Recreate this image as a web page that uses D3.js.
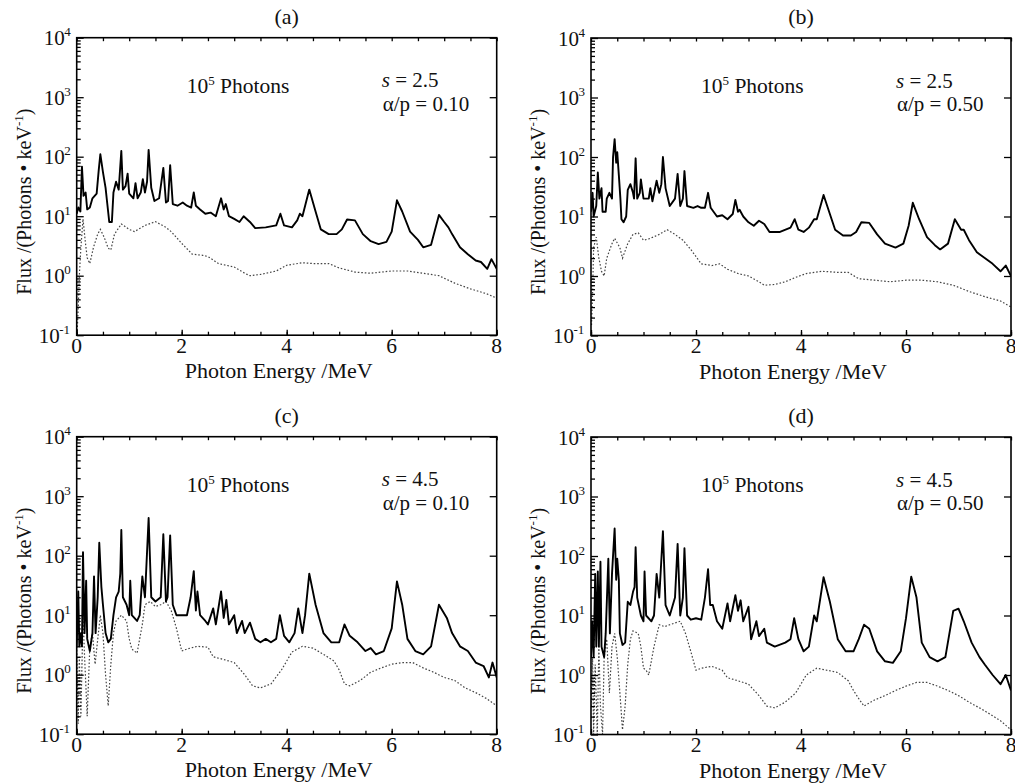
<!DOCTYPE html>
<html>
<head>
<meta charset="utf-8">
<script src="https://cdn.jsdelivr.net/npm/d3@7"></script>
<style>
  body { margin: 0; background: #fff; }
  text { font-family: "Liberation Serif", "DejaVu Serif", serif; fill: #111; }
</style>
</head>
<body>
<div id="container"></div>
<script>
/* DATA, [energy MeV, flux] */
const solidA = [[0,11],[0.03,14],[0.07,12],[0.1,68],[0.13,22],[0.17,25],[0.2,13],[0.25,14],[0.3,20],[0.38,24],[0.42,60],[0.45,110],[0.5,55],[0.55,30],[0.58,17],[0.62,8],[0.67,8],[0.7,25],[0.75,38],[0.8,28],[0.85,125],[0.88,28],[0.93,32],[0.97,52],[1.0,24],[1.08,20],[1.12,36],[1.16,20],[1.22,25],[1.26,42],[1.3,25],[1.34,38],[1.37,130],[1.42,30],[1.48,18],[1.57,20],[1.65,65],[1.7,17],[1.74,18],[1.78,72],[1.83,16],[1.92,15],[2.02,17],[2.1,15],[2.18,14],[2.23,25],[2.27,15],[2.35,13],[2.45,11],[2.55,11.5],[2.65,10],[2.75,20],[2.8,13],[2.84,16],[2.9,10],[3.0,9],[3.1,8],[3.18,10],[3.3,8],[3.4,6.3],[3.6,6.5],[3.8,7],[3.88,11],[3.95,7],[4.1,6.5],[4.2,8.5],[4.25,11],[4.3,10],[4.43,28],[4.55,12],[4.65,6],[4.8,5],[4.95,5],[5.05,6],[5.15,8.8],[5.3,8.5],[5.45,5],[5.6,3.8],[5.75,3.4],[5.9,3.7],[6.0,5.5],[6.1,18.5],[6.2,12],[6.35,5.5],[6.5,4],[6.6,3],[6.75,3.3],[6.9,10.5],[7.0,8],[7.08,6.5],[7.15,5],[7.3,3],[7.45,2.3],[7.6,1.8],[7.7,1.7],[7.82,1.3],[7.9,1.9],[8.0,1.3]];
const dottedA = [[0.01,0.12],[0.03,0.3],[0.05,1.0],[0.08,3],[0.12,9],[0.16,4],[0.2,2],[0.25,1.6],[0.32,3],[0.4,5],[0.45,6],[0.52,4.5],[0.6,2.9],[0.65,2.7],[0.72,5],[0.85,7.4],[1.0,6],[1.1,5.5],[1.3,7],[1.5,8.1],[1.7,6.5],[1.8,5.5],[2.0,3.5],[2.2,2.3],[2.4,2.2],[2.5,2.1],[2.7,1.6],[3.0,1.4],[3.2,1.1],[3.3,1.0],[3.5,1.05],[3.8,1.2],[4.0,1.5],[4.3,1.65],[4.5,1.6],[4.8,1.6],[5.0,1.35],[5.3,1.15],[5.6,1.1],[6.0,1.2],[6.3,1.2],[6.6,1.1],[6.9,1.0],[7.2,0.75],[7.5,0.6],[7.8,0.5],[8.0,0.42]];

const solidB = [[0,12],[0.03,25],[0.05,10],[0.1,15],[0.13,55],[0.16,20],[0.2,30],[0.22,12],[0.28,12],[0.3,20],[0.35,25],[0.4,20],[0.42,100],[0.45,200],[0.48,80],[0.5,120],[0.53,50],[0.56,20],[0.58,9],[0.62,8],[0.67,10],[0.7,28],[0.75,35],[0.8,25],[0.82,20],[0.85,95],[0.88,20],[0.93,25],[0.95,42],[1.0,20],[1.1,20],[1.13,30],[1.17,18],[1.25,40],[1.3,25],[1.34,35],[1.37,100],[1.42,30],[1.5,15],[1.6,20],[1.65,52],[1.7,15],[1.75,20],[1.78,58],[1.83,15],[1.95,14],[2.03,15],[2.1,14],[2.17,14],[2.23,25],[2.28,14],[2.4,10],[2.5,10.5],[2.6,9],[2.7,11],[2.75,19],[2.8,12],[2.83,13],[2.9,10],[3.0,8],[3.1,7],[3.2,8.5],[3.3,7.5],[3.4,5.5],[3.6,5.5],[3.8,6.5],[3.88,9],[3.95,6],[4.05,5.5],[4.15,6.5],[4.25,9],[4.3,9],[4.43,23],[4.55,11],[4.65,6],[4.8,4.8],[4.95,4.8],[5.05,5.5],[5.15,8],[5.3,7.8],[5.45,5],[5.6,3.5],[5.8,3],[5.95,3.5],[6.05,7],[6.13,17],[6.25,9],[6.4,4.5],[6.55,3.3],[6.65,2.8],[6.8,3.5],[6.93,9],[7.05,6],[7.1,6],[7.2,4],[7.35,2.5],[7.5,2],[7.65,1.6],[7.8,1.2],[7.9,1.5],[8.0,1.0]];
const dottedB = [[0.01,0.15],[0.03,0.5],[0.05,3],[0.1,4.5],[0.15,2],[0.2,1.2],[0.25,1.0],[0.3,2],[0.4,3.5],[0.45,4.3],[0.55,3],[0.6,2],[0.7,3.5],[0.8,5],[0.9,5.3],[1.0,4],[1.1,4.2],[1.3,5],[1.45,6],[1.6,5],[1.75,4],[1.9,2.8],[2.1,1.6],[2.3,1.5],[2.45,1.6],[2.6,1.3],[2.8,1.1],[3.0,1.0],[3.2,0.8],[3.3,0.7],[3.5,0.72],[3.7,0.8],[3.9,0.95],[4.1,1.1],[4.4,1.2],[4.7,1.15],[4.9,1.15],[5.1,0.9],[5.4,0.85],[5.7,0.8],[6.0,0.85],[6.3,0.85],[6.6,0.8],[6.9,0.7],[7.2,0.55],[7.5,0.45],[7.8,0.38],[8.0,0.3]];

const solidC = [[0,3],[0.03,25],[0.05,3],[0.08,5],[0.1,3],[0.12,115],[0.15,5],[0.18,38],[0.2,4],[0.25,2.5],[0.3,5],[0.33,45],[0.36,5],[0.4,20],[0.43,165],[0.47,30],[0.5,15],[0.55,5],[0.6,3.5],[0.65,4],[0.7,10],[0.75,20],[0.8,25],[0.83,50],[0.85,270],[0.88,20],[0.95,15],[1.0,10],[1.02,38],[1.05,10],[1.15,8],[1.2,10],[1.25,45],[1.3,20],[1.37,430],[1.42,20],[1.5,17],[1.6,20],[1.65,230],[1.7,17],[1.73,20],[1.78,220],[1.83,15],[1.9,10],[2.0,10],[2.1,10],[2.17,20],[2.23,55],[2.27,12],[2.3,25],[2.35,10],[2.45,8],[2.5,7],[2.6,13],[2.65,7],[2.75,25],[2.8,9],[2.85,18],[2.9,7],[3.0,10],[3.05,5],[3.15,8],[3.2,5],[3.3,7.5],[3.4,4],[3.5,3.5],[3.6,4],[3.7,3.5],[3.8,4],[3.87,10],[3.95,4.5],[4.05,3.5],[4.15,5],[4.22,13],[4.3,5],[4.35,10],[4.43,50],[4.55,15],[4.7,5],[4.85,3.5],[5.0,3.5],[5.1,7],[5.2,4.5],[5.35,3.5],[5.5,2.5],[5.6,2.8],[5.7,2.2],[5.85,2.5],[6.0,6],[6.1,37],[6.2,15],[6.3,4],[6.45,2.5],[6.6,2.2],[6.75,3],[6.9,15],[7.05,9],[7.15,5],[7.3,3],[7.45,2.5],[7.6,1.6],[7.75,1.4],[7.85,0.9],[7.92,1.6],[8.0,0.9]];
const dottedC = [[0,3],[0.03,0.15],[0.05,2],[0.08,0.2],[0.12,10],[0.15,2],[0.2,0.2],[0.25,3],[0.3,5],[0.35,1.5],[0.45,10],[0.5,5],[0.55,1],[0.6,0.3],[0.65,1.5],[0.7,5],[0.75,8],[0.85,10],[0.95,8],[1.0,4],[1.05,2.7],[1.15,2.3],[1.25,7],[1.3,15],[1.4,17],[1.5,14],[1.6,15],[1.7,17],[1.8,12],[1.9,6],[2.0,2.5],[2.1,2.7],[2.3,3.0],[2.5,2.9],[2.6,2.0],[2.8,1.8],[3.0,1.6],[3.2,1.0],[3.35,0.65],[3.5,0.6],[3.7,0.7],[3.9,1.2],[4.1,2.4],[4.3,3.0],[4.5,2.8],[4.7,2.2],[4.9,1.7],[5.0,1.2],[5.1,0.7],[5.2,0.65],[5.4,0.8],[5.6,1.1],[5.8,1.3],[6.0,1.5],[6.2,1.6],[6.4,1.6],[6.6,1.3],[6.8,1.1],[7.0,0.9],[7.2,0.8],[7.4,0.6],[7.6,0.5],[7.8,0.4],[8.0,0.3]];

const solidD = [[0,2],[0.02,8],[0.05,2],[0.08,50],[0.1,3],[0.13,55],[0.15,3],[0.18,80],[0.2,3],[0.25,2],[0.28,5],[0.33,90],[0.36,5],[0.4,50],[0.45,290],[0.48,40],[0.5,90],[0.53,40],[0.55,5],[0.6,3.2],[0.65,3.5],[0.7,17],[0.75,15],[0.8,25],[0.83,30],[0.85,140],[0.88,20],[0.95,10],[1.0,8],[1.02,55],[1.05,10],[1.15,8],[1.2,10],[1.25,50],[1.3,20],[1.37,260],[1.42,15],[1.5,10],[1.6,20],[1.65,160],[1.7,10],[1.75,20],[1.78,135],[1.83,10],[1.9,8.5],[2.0,9],[2.1,8.5],[2.17,20],[2.23,60],[2.27,15],[2.32,15],[2.4,8],[2.5,6],[2.6,16],[2.65,8],[2.75,22],[2.8,12],[2.85,18],[2.9,8],[3.0,14],[3.05,4],[3.15,8],[3.2,4.5],[3.3,6],[3.35,3.5],[3.5,3],[3.7,3.5],[3.8,4],[3.87,9],[3.95,4],[4.05,2.5],[4.15,3],[4.25,10],[4.3,8],[4.43,44],[4.55,17],[4.7,4],[4.85,2.5],[5.0,2.5],[5.1,4],[5.2,7],[5.3,6],[5.45,2.5],[5.6,1.7],[5.75,1.6],[5.9,2.5],[6.0,9],[6.1,45],[6.2,20],[6.3,3.5],[6.45,2],[6.6,1.7],[6.75,2],[6.9,12],[7.0,13],[7.1,8],[7.25,3.5],[7.4,2],[7.5,1.5],[7.65,1.0],[7.8,0.7],[7.9,1.0],[8.0,0.55]];
const dottedD = [[0,0.3],[0.03,2],[0.05,0.1],[0.08,1.5],[0.12,0.1],[0.15,3],[0.18,0.3],[0.22,0.1],[0.25,2],[0.3,4],[0.35,0.5],[0.4,3],[0.45,5],[0.5,2],[0.55,0.5],[0.6,0.12],[0.65,0.3],[0.7,1.5],[0.75,4],[0.8,5.5],[0.9,5],[0.95,3],[1.0,1.3],[1.05,1.2],[1.1,1.0],[1.2,3],[1.3,7],[1.4,6.5],[1.5,7],[1.6,7.5],[1.7,8],[1.8,5],[1.9,2.5],[2.0,1.2],[2.1,1.3],[2.3,1.4],[2.5,1.2],[2.6,0.9],[2.8,0.8],[3.0,0.7],[3.2,0.45],[3.35,0.3],[3.5,0.28],[3.7,0.35],[3.9,0.5],[4.1,1.0],[4.3,1.3],[4.5,1.2],[4.7,1.1],[4.9,0.8],[5.0,0.55],[5.1,0.4],[5.2,0.3],[5.4,0.38],[5.6,0.45],[5.8,0.55],[6.0,0.65],[6.2,0.75],[6.4,0.75],[6.6,0.65],[6.8,0.55],[7.0,0.45],[7.2,0.35],[7.4,0.28],[7.6,0.22],[7.8,0.17],[8.0,0.12]];

const panelLabels = ["(a)", "(b)", "(c)", "(d)"];
const sValues = ["2.5", "2.5", "4.5", "4.5"];
const apValues = ["0.10", "0.50", "0.10", "0.50"];
const xTickLabels = [0, 2, 4, 6, 8];
const yDecades = [-1, 0, 1, 2, 3, 4];

/* LAYOUT */
const W = 420, H = 297.5;
const origins = [[76.7, 37.7], [591, 38], [76.7, 436.7], [591, 437]];
const series = [[solidA, dottedA], [solidB, dottedB], [solidC, dottedC], [solidD, dottedD]];

const svg = d3.select("#container").append("svg")
  .attr("width", 1015).attr("height", 784);

const x = d3.scaleLinear().domain([0, 8]).range([0, W]);
const y = d3.scaleLog().domain([0.1, 1e4]).range([H, 0]);

// minor log ticks 2..9 per decade
const minorY = [];
yDecades.slice(0, -1).forEach(e => {
  for (let k = 2; k <= 9; k++) minorY.push(k * Math.pow(10, e));
});
const majorY = yDecades.map(e => Math.pow(10, e));

const line = d3.line().x(d => x(d[0])).y(d => y(d[1]));

origins.forEach(([ox, oy], i) => {
  const g = svg.append("g").attr("transform", `translate(${ox},${oy})`);

  g.append("clipPath").attr("id", "clip" + i)
    .append("rect").attr("width", W).attr("height", H);

  // curves
  g.append("path")
    .datum(series[i][1])
    .attr("clip-path", `url(#clip${i})`)
    .attr("fill", "none")
    .attr("stroke", "#444")
    .attr("stroke-width", 1.2)
    .attr("stroke-dasharray", "1.6,1.9")
    .attr("d", line);

  g.append("path")
    .datum(series[i][0])
    .attr("clip-path", `url(#clip${i})`)
    .attr("fill", "none")
    .attr("stroke", "#000")
    .attr("stroke-width", 1.9)
    .attr("stroke-linejoin", "round")
    .attr("d", line);

  // ticks, all pointing inside
  const tickGroups = [
    d3.axisLeft(y).tickValues(minorY).tickSize(-4),
    d3.axisLeft(y).tickValues(majorY).tickSize(-7),
    d3.axisRight(y).tickValues(majorY).tickSize(-7),
    d3.axisBottom(x).tickValues(d3.range(0, 8.01, 0.5)).tickSize(-3.5),
    d3.axisBottom(x).tickValues(xTickLabels).tickSize(-5.5),
    d3.axisTop(x).tickValues(d3.range(0, 8.01, 0.5)).tickSize(-3.5)
  ];
  const placement = [[0, 0], [0, 0], [W, 0], [0, H], [0, H], [0, 0]];
  tickGroups.forEach((ax, j) => {
    const a = g.append("g")
      .attr("transform", `translate(${placement[j][0]},${placement[j][1]})`)
      .call(ax.tickFormat("").tickSizeOuter(0));
    a.select(".domain").remove();
    a.selectAll("line").attr("stroke", "#000").attr("stroke-width", 1.3);
  });

  // frame
  g.append("rect")
    .attr("width", W).attr("height", H)
    .attr("fill", "none").attr("stroke", "#000").attr("stroke-width", 1.6);

  // y tick labels 10^n (lowest one nudged left, clear of the "0")
  yDecades.forEach(e => {
    const t = g.append("text")
      .attr("x", e < 0 ? -38 : -33).attr("y", y(Math.pow(10, e)) + 7.5)
      .attr("font-size", 21);
    t.append("tspan").text("10");
    t.append("tspan").attr("dy", -9).attr("dx", -0.5).attr("font-size", 13).text(String(e));
  });

  // x tick labels
  g.selectAll(".xl").data(xTickLabels).join("text")
    .attr("x", d => x(d)).attr("y", H + 17.5)
    .attr("text-anchor", "middle").attr("font-size", 21.5)
    .text(d => d);

  // axis titles
  g.append("text")
    .attr("x", 202).attr("y", H + 43)
    .attr("text-anchor", "middle").attr("font-size", 22)
    .text("Photon Energy /MeV");

  const yl = g.append("text")
    .attr("transform", `translate(-46,164) rotate(-90)`)
    .attr("text-anchor", "middle").attr("font-size", 20);
  yl.append("tspan").text("Flux /(Photons \u2022 keV");
  yl.append("tspan").attr("dy", -8).attr("font-size", 13).text("-1");
  yl.append("tspan").attr("dy", 8).text(")");

  // panel letter
  g.append("text")
    .attr("x", 210).attr("y", -14)
    .attr("text-anchor", "middle").attr("font-size", 22)
    .text(panelLabels[i]);

  // annotations
  const ph = g.append("text").attr("x", 110).attr("y", 55).attr("font-size", 21.5);
  ph.append("tspan").text("10");
  ph.append("tspan").attr("dy", -8).attr("font-size", 13).text("5");
  ph.append("tspan").attr("dy", 8).text(" Photons");

  const s = g.append("text").attr("x", 305).attr("y", 49.5).attr("font-size", 21);
  s.append("tspan").attr("font-style", "italic").text("s");
  s.append("tspan").text(" = " + sValues[i]);

  g.append("text").attr("x", 306).attr("y", 73).attr("font-size", 21)
    .text("\u03b1/p = " + apValues[i]);
});
</script>
</body>
</html>
